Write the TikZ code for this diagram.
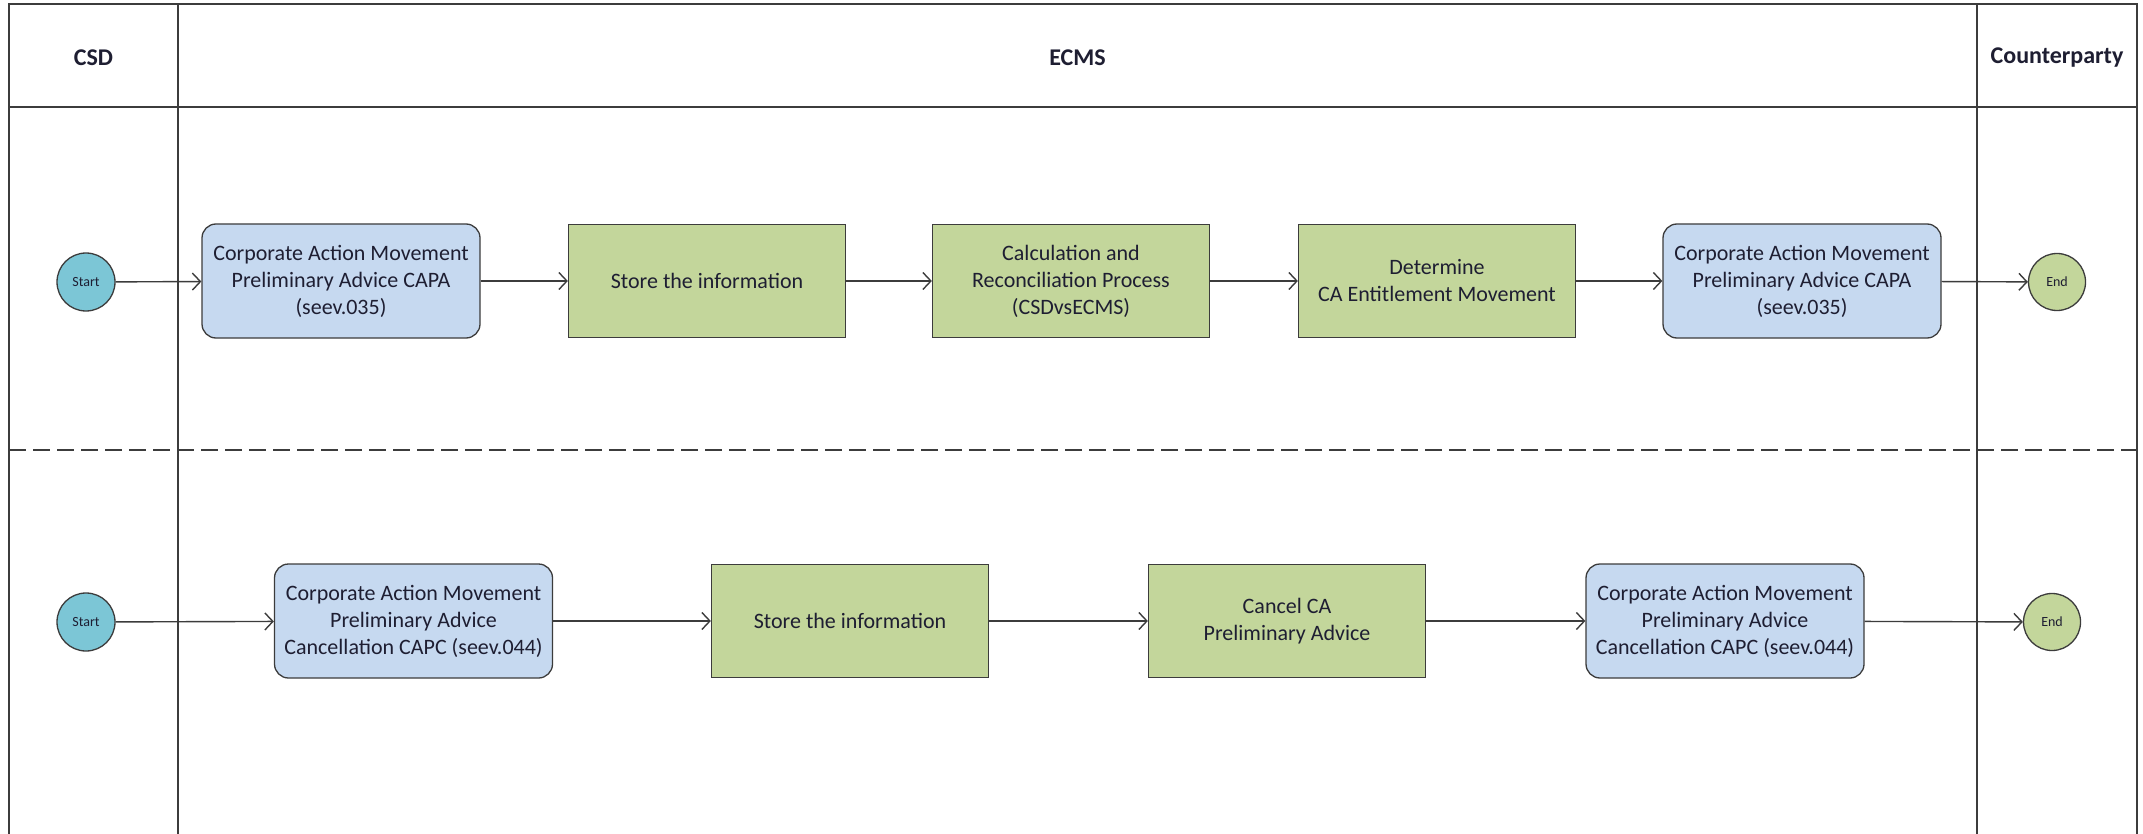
\documentclass[tikz,border=0pt]{standalone}
\usepackage{fontspec}
\setmainfont{Carlito}
\usetikzlibrary{arrows.meta}
\definecolor{bluebox}{HTML}{C6D9F0}
\definecolor{greenbox}{HTML}{C3D69B}
\definecolor{startfill}{HTML}{7CC6D6}
\definecolor{edgec}{HTML}{3C3C3C}
\definecolor{txt}{HTML}{1E1E32}
\begin{document}
\begin{tikzpicture}[x=1pt,y=-1pt,
  frame/.style={draw=edgec, line width=1.6pt},
  lanesep/.style={draw=edgec, line width=2pt, dash pattern=on 17pt off 7pt},
  header/.style={text=txt, font=\fontsize{24}{28}\selectfont\bfseries},
  msgbox/.style={draw=edgec, line width=1.3pt, fill=bluebox, rounded corners=14pt,
    minimum width=278pt, minimum height=114pt, align=center, text=txt,
    font=\fontsize{22}{27}\selectfont, inner sep=0pt},
  taskbox/.style={draw=edgec, line width=1.3pt, fill=greenbox,
    minimum width=277pt, minimum height=113pt, align=center, text=txt,
    font=\fontsize{22}{27}\selectfont, inner sep=0pt},
  startc/.style={circle, draw=edgec, line width=1.3pt, fill=startfill,
    minimum size=58pt, inner sep=0pt, text=txt, font=\fontsize{14}{16}\selectfont},
  endc/.style={circle, draw=edgec, line width=1.3pt, fill=greenbox,
    minimum size=57pt, inner sep=0pt, text=txt, font=\fontsize{14}{16}\selectfont},
  flow/.style={draw=edgec, line width=1.4pt,
    -{Straight Barb[length=8pt,width=17pt,line width=1.4pt]}},
]
\useasboundingbox (0,0) rectangle (2143,834);
\fill[white] (0,0) rectangle (2143,834);

% frame
\draw[frame] (9,834) -- (9,4) -- (2137,4) -- (2137,834);
\draw[frame] (9,107) -- (2137,107);
\draw[frame] (178,4) -- (178,834);
\draw[frame] (1977,4) -- (1977,834);
\draw[lanesep] (9,450) -- (2143,450);

% headers
\node[header] (hcsd) at (93.5,58) {CSD};
\node[header] (hecms) at (1077.5,58) {ECMS};
\node[header] (hcp) at (2057,58) {Counterparty};

% row 1
\node[startc] (s1) at (86,282) {Start};
\node[msgbox] (a1) at (341,281) {Corporate Action Movement\\Preliminary Advice CAPA\\(seev.035)};
\node[taskbox] (a2) at (707,281) {Store the information};
\node[taskbox] (a3) at (1071,281) {Calculation and\\Reconciliation Process\\(CSDvsECMS)};
\node[taskbox] (a4) at (1437,281) {Determine\\CA Entitlement Movement};
\node[msgbox] (a5) at (1802,281) {Corporate Action Movement\\Preliminary Advice CAPA\\(seev.035)};
\node[endc] (e1) at (2057,282) {End};

\draw[flow] (s1) -- (a1);
\draw[flow] (a1) -- (a2);
\draw[flow] (a2) -- (a3);
\draw[flow] (a3) -- (a4);
\draw[flow] (a4) -- (a5);
\draw[flow] (a5) -- (e1);

% row 2
\node[startc] (s2) at (86,622) {Start};
\node[msgbox] (b1) at (413.5,621) {Corporate Action Movement\\Preliminary Advice\\Cancellation CAPC (seev.044)};
\node[taskbox] (b2) at (850,621) {Store the information};
\node[taskbox] (b3) at (1287,621) {Cancel CA\\Preliminary Advice};
\node[msgbox] (b4) at (1725,621) {Corporate Action Movement\\Preliminary Advice\\Cancellation CAPC (seev.044)};
\node[endc] (e2) at (2052,622) {End};

\draw[flow] (s2) -- (b1);
\draw[flow] (b1) -- (b2);
\draw[flow] (b2) -- (b3);
\draw[flow] (b3) -- (b4);
\draw[flow] (b4) -- (e2);
\end{tikzpicture}
\end{document}
